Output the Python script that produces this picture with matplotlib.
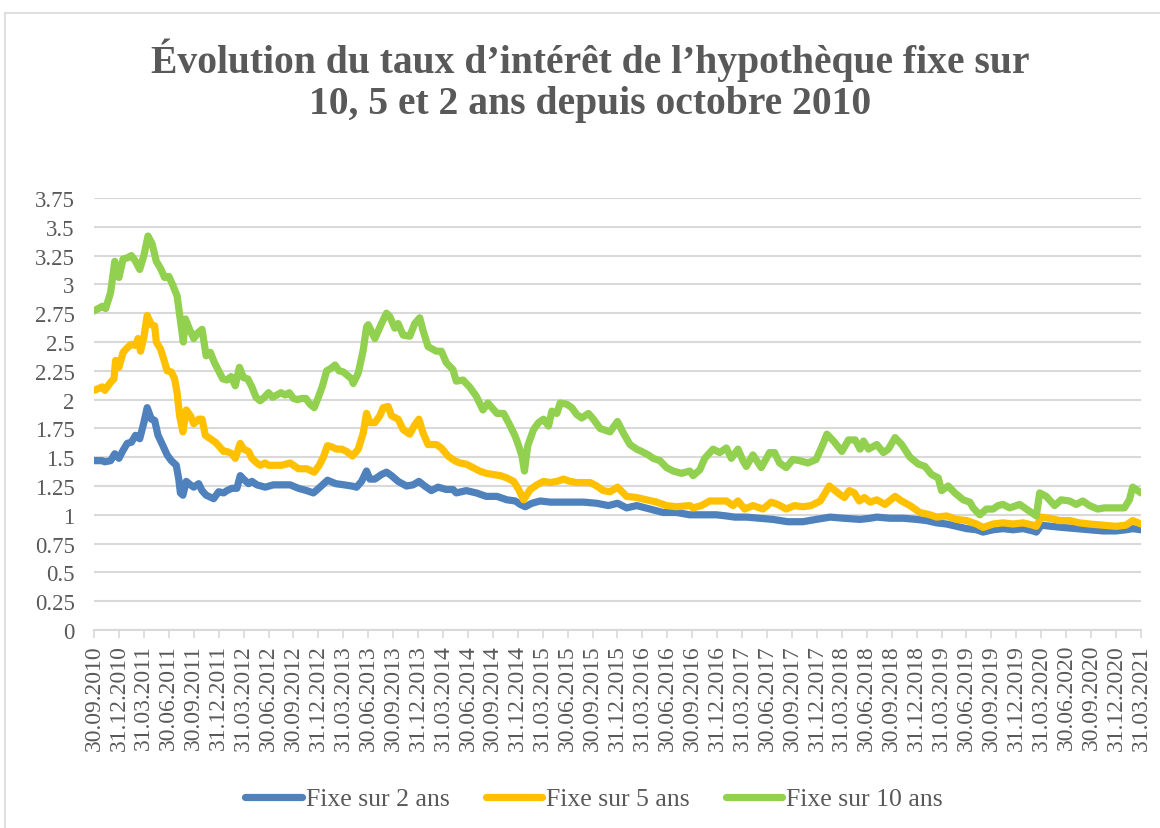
import matplotlib.pyplot as plt
from matplotlib.lines import Line2D

# months elapsed since 30.09.2010, and rates (%)
mois_2 = [0, 1, 1.3, 2, 2.5, 3, 3.5, 4, 4.5, 5, 5.5, 6, 6.4, 6.9, 7.3, 7.7, 8.1, 8.8, 9.3, 9.9,
          10.2, 10.4, 10.7, 11.1, 11.6, 12, 12.6, 13, 13.5, 14.4, 15, 15.6, 16, 16.6, 17.2, 17.6,
          18, 18.6, 19, 19.6, 20.6, 21.6, 22.6, 23.6, 24.6, 25.6, 26.4, 27.2, 28.1, 29.1, 30.1,
          31.0, 31.6, 32.2, 32.8, 33.2, 33.8, 34.6, 35.2, 35.8, 36.6, 37.6, 38.4, 39.1, 39.8,
          40.6, 41.4, 42.4, 43.2, 43.6, 44.8, 46.0, 47.2, 48.5, 49.7, 50.7, 51.3, 51.9, 52.7,
          53.7, 54.9, 56.9, 58.9, 60.5, 61.9, 63.0, 64.1, 65.3, 66.9, 68.5, 70.1, 71.7, 73.3,
          74.9, 76.1, 77.1, 78.5, 80.1, 81.7, 83.5, 85.3, 86.9, 88.6, 90.2, 92.2, 93.4, 94.2,
          95.8, 97.4, 99.0, 100.2, 101.4, 102.6, 103.8, 105.0, 106.2, 107.0, 108.2, 109.4,
          110.6, 111.8, 113.0, 113.4, 114.0, 115.2, 116.6, 118.2, 119.8, 121.4, 123.0, 124.2,
          125.0, 126.0]
taux_2 = [1.47, 1.47, 1.46, 1.47, 1.53, 1.49, 1.56, 1.62, 1.63, 1.69, 1.66, 1.80, 1.93, 1.83,
          1.82, 1.69, 1.63, 1.52, 1.47, 1.43, 1.31, 1.19, 1.17, 1.29, 1.26, 1.24, 1.27, 1.21,
          1.17, 1.14, 1.20, 1.19, 1.21, 1.23, 1.23, 1.34, 1.31, 1.27, 1.29, 1.26, 1.24, 1.26,
          1.26, 1.26, 1.23, 1.21, 1.19, 1.24, 1.30, 1.27, 1.26, 1.25, 1.24, 1.29, 1.38, 1.31,
          1.31, 1.35, 1.37, 1.34, 1.29, 1.25, 1.26, 1.29, 1.25, 1.21, 1.24, 1.22, 1.22, 1.19,
          1.21, 1.19, 1.16, 1.16, 1.13, 1.12, 1.09, 1.07, 1.10, 1.12, 1.11, 1.11, 1.11, 1.10,
          1.08, 1.10, 1.06, 1.08, 1.05, 1.02, 1.02, 1.00, 1.00, 1.00, 0.99, 0.98, 0.98, 0.97,
          0.96, 0.94, 0.94, 0.96, 0.98, 0.97, 0.96, 0.97, 0.98, 0.97, 0.97, 0.96, 0.95, 0.93,
          0.92, 0.90, 0.88, 0.87, 0.85, 0.87, 0.88, 0.87, 0.88, 0.86, 0.85, 0.91, 0.90, 0.89,
          0.88, 0.87, 0.86, 0.86, 0.87, 0.88, 0.87]

mois_5 = [0, 1, 1.3, 2, 2.4, 2.6, 3, 3.5, 4, 4.5, 5, 5.3, 5.6, 6, 6.4, 6.9, 7.3, 7.5, 8, 8.4,
          8.8, 9.3, 9.7, 10, 10.3, 10.7, 11.1, 11.6, 12, 12.6, 13, 13.4, 14, 14.6, 15, 15.6, 16,
          16.6, 17, 17.6, 18, 18.6, 19, 19.6, 20, 20.6, 21, 21.6, 22.6, 23.6, 24.6, 25.6, 26.5,
          27.1, 27.6, 28.1, 28.6, 29.2, 29.8, 30.4, 31.1, 31.8, 32.4, 32.8, 33.2, 33.8, 34.4,
          34.8, 35.4, 35.8, 36.6, 37.2, 38.0, 38.6, 39.1, 39.6, 40.2, 41.2, 41.8, 42.6, 43.4,
          44.0, 44.8, 45.6, 46.4, 47.2, 48.0, 48.9, 49.7, 50.5, 51.1, 51.5, 51.7, 52.5, 53.3,
          54.1, 54.9, 55.7, 56.5, 57.3, 58.1, 59.7, 60.5, 61.3, 62.1, 63.0, 64.1, 65.3, 66.5,
          67.7, 68.9, 70.1, 71.7, 72.1, 73.1, 74.1, 75.3, 76.1, 76.9, 77.5, 78.3, 79.3, 80.5,
          81.5, 82.3, 83.3, 84.3, 85.3, 86.3, 87.4, 88.5, 89.7, 90.3, 90.9, 91.5, 92.1, 92.7,
          93.4, 94.2, 95.2, 96.4, 97.2, 98.2, 99.4, 100.6, 101.4, 102.6, 103.8, 105.0, 106.2,
          107.0, 108.2, 109.4, 110.6, 111.8, 113.0, 113.4, 114.0, 115.0, 116.2, 117.4, 118.6,
          119.8, 121.4, 123.0, 124.2, 125.0, 126.0]
taux_5 = [2.08, 2.11, 2.08, 2.15, 2.18, 2.34, 2.28, 2.41, 2.45, 2.48, 2.47, 2.53, 2.42, 2.54,
          2.73, 2.65, 2.64, 2.50, 2.44, 2.35, 2.25, 2.24, 2.18, 2.06, 1.86, 1.72, 1.91, 1.86,
          1.79, 1.83, 1.83, 1.69, 1.66, 1.63, 1.60, 1.55, 1.55, 1.53, 1.49, 1.62, 1.57, 1.55,
          1.49, 1.45, 1.43, 1.45, 1.43, 1.43, 1.43, 1.45, 1.40, 1.40, 1.37, 1.43, 1.50, 1.60,
          1.59, 1.57, 1.57, 1.55, 1.51, 1.57, 1.71, 1.88, 1.80, 1.80, 1.86, 1.93, 1.94, 1.86,
          1.83, 1.74, 1.70, 1.78, 1.83, 1.71, 1.61, 1.61, 1.58, 1.51, 1.47, 1.45, 1.44, 1.41,
          1.38, 1.36, 1.35, 1.34, 1.32, 1.29, 1.22, 1.16, 1.13, 1.22, 1.26, 1.29, 1.28, 1.29,
          1.31, 1.29, 1.28, 1.28, 1.25, 1.21, 1.20, 1.24, 1.16, 1.15, 1.13, 1.11, 1.08, 1.07,
          1.08, 1.06, 1.08, 1.12, 1.12, 1.12, 1.08, 1.12, 1.05, 1.08, 1.05, 1.11, 1.09, 1.05,
          1.08, 1.07, 1.08, 1.12, 1.25, 1.18, 1.15, 1.21, 1.19, 1.12, 1.15, 1.11, 1.13, 1.09,
          1.16, 1.12, 1.08, 1.02, 1.00, 0.98, 0.99, 0.96, 0.95, 0.92, 0.89, 0.92, 0.93, 0.92,
          0.93, 0.91, 0.90, 0.98, 0.97, 0.95, 0.95, 0.93, 0.92, 0.91, 0.90, 0.91, 0.95, 0.92]

mois_10 = [0, 1, 1.4, 2, 2.5, 3, 3.5, 4, 4.5, 5, 5.5, 6, 6.5, 7, 7.5, 8, 8.5, 9, 9.5, 10, 10.75,
           11, 11.5, 12, 12.5, 13, 13.5, 14, 14.5, 15, 15.5, 16, 16.5, 17, 17.5, 18, 18.5, 19,
           19.5, 20, 20.5, 21, 21.5, 22, 22.5, 23, 23.5, 24, 24.5, 25, 25.5, 26, 26.5, 27, 27.5,
           28, 28.5, 29, 29.5, 30, 30.5, 31, 31.2, 31.8, 32.4, 32.8, 33.0, 33.8, 34.6, 35.2,
           35.6, 36.2, 36.6, 37.2, 38.0, 38.6, 39.2, 39.6, 40.2, 41.2, 41.8, 42.4, 43.2, 43.6,
           44.4, 45.2, 46.0, 46.8, 47.4, 48.5, 49.3, 50.1, 50.7, 51.1, 51.5, 51.8, 52.2, 52.9,
           53.5, 54.1, 54.7, 55.1, 55.7, 56.1, 56.9, 57.5, 58.1, 58.7, 59.5, 60.1, 60.9, 62.1,
           63.0, 63.7, 64.5, 65.3, 65.9, 66.7, 67.3, 68.1, 68.9, 69.7, 70.7, 71.7, 72.1, 72.9,
           73.5, 74.5, 75.3, 76.1, 76.7, 77.5, 78.1, 78.5, 79.3, 80.3, 81.3, 81.9, 82.5, 83.3,
           84.1, 84.9, 85.9, 86.9, 87.7, 88.2, 89.0, 90.0, 90.8, 91.6, 92.2, 92.6, 93.2, 94.2,
           95.0, 95.6, 96.4, 97.2, 98.2, 99.2, 100.0, 100.8, 101.6, 102.0, 102.8, 103.6, 104.6,
           105.4, 105.8, 106.6, 107.4, 108.2, 108.8, 109.4, 110.2, 111.4, 112.2, 113.4, 113.8,
           114.6, 115.6, 116.4, 117.4, 118.2, 119.0, 119.8, 120.8, 121.6, 122.6, 124.0, 124.6,
           125.0, 125.6, 126.0]
taux_10 = [2.77, 2.81, 2.79, 2.93, 3.20, 3.06, 3.22, 3.23, 3.25, 3.20, 3.13, 3.25, 3.42, 3.35,
           3.20, 3.14, 3.06, 3.07, 2.99, 2.90, 2.50, 2.70, 2.61, 2.53, 2.58, 2.61, 2.38, 2.41,
           2.32, 2.25, 2.18, 2.17, 2.20, 2.12, 2.28, 2.19, 2.18, 2.11, 2.02, 1.99, 2.02, 2.06,
           2.02, 2.04, 2.06, 2.04, 2.06, 2.01, 2.00, 2.01, 2.01, 1.96, 1.93, 2.02, 2.12, 2.25,
           2.27, 2.30, 2.25, 2.24, 2.21, 2.18, 2.14, 2.23, 2.43, 2.63, 2.65, 2.53, 2.66, 2.75,
           2.72, 2.62, 2.66, 2.56, 2.55, 2.66, 2.71, 2.60, 2.46, 2.42, 2.42, 2.32, 2.26, 2.16,
           2.17, 2.11, 2.03, 1.91, 1.97, 1.88, 1.88, 1.77, 1.68, 1.60, 1.51, 1.38, 1.60, 1.74,
           1.80, 1.83, 1.77, 1.90, 1.88, 1.97, 1.96, 1.93, 1.87, 1.84, 1.88, 1.83, 1.75, 1.72,
           1.81, 1.71, 1.61, 1.57, 1.55, 1.52, 1.49, 1.47, 1.41, 1.38, 1.36, 1.38, 1.34, 1.39,
           1.49, 1.57, 1.54, 1.58, 1.49, 1.57, 1.47, 1.42, 1.52, 1.41, 1.54, 1.54, 1.45, 1.41,
           1.48, 1.47, 1.45, 1.48, 1.61, 1.70, 1.64, 1.55, 1.65, 1.65, 1.57, 1.64, 1.57, 1.61,
           1.54, 1.57, 1.67, 1.61, 1.50, 1.44, 1.42, 1.35, 1.32, 1.21, 1.25, 1.19, 1.13, 1.11,
           1.06, 1.00, 1.05, 1.05, 1.08, 1.09, 1.06, 1.09, 1.05, 0.99, 1.19, 1.16, 1.08, 1.13,
           1.12, 1.09, 1.12, 1.08, 1.05, 1.06, 1.06, 1.06, 1.13, 1.24, 1.21, 1.19]

# quarter-end labels of the category axis
dates = []
for annee in range(2010, 2022):
    for jour_mois in ["31.03", "30.06", "30.09", "31.12"]:
        dates.append(f"{jour_mois}.{annee}")
dates = dates[2:-3]  # 30.09.2010 .. 31.03.2021

series = [
    ("Fixe sur 2 ans", mois_2, taux_2, "#4F81BD"),
    ("Fixe sur 5 ans", mois_5, taux_5, "#FFC000"),
    ("Fixe sur 10 ans", mois_10, taux_10, "#92D050"),
]

serif = "Liberation Serif"
gris = "#595959"

fig = plt.figure(figsize=(11.6, 8.29), dpi=100)
ax = fig.add_axes([94 / 1160, 1 - 631 / 829, (1141 - 94) / 1160, (631 - 199) / 829])

for nom, x, y, couleur in series:
    ax.plot(x, y, color=couleur, lw=5.2, label=nom,
            solid_joinstyle="round", solid_capstyle="round")

ax.set_xlim(0, 126)
ax.set_ylim(0, 3.75)
ax.set_yticks([i * 0.25 for i in range(16)])
ax.set_yticklabels([f"{i * 0.25:g}" for i in range(16)], fontfamily=serif, fontsize=16.5, color=gris)
ax.set_xticks(range(0, 127, 3))
ax.set_xticklabels(dates, rotation=90, fontfamily=serif, fontsize=17, color=gris)
ax.tick_params(axis="y", length=0, pad=14)
ax.tick_params(axis="x", length=6, width=1.2, color="#D9D9D9", pad=4)

ax.grid(axis="y", color="#D9D9D9", lw=1.5)
ax.set_axisbelow(True)
for side in ["top", "right", "left"]:
    ax.spines[side].set_visible(False)
ax.spines["bottom"].set_color("#D9D9D9")
ax.spines["bottom"].set_linewidth(1.5)
ax.spines["bottom"].set_zorder(0)

fig.text(590 / 1160, 1 - 81 / 829,
         "Évolution du taux d’intérêt de l’hypothèque fixe sur\n10, 5 et 2 ans depuis octobre 2010",
         ha="center", va="center", fontfamily=serif, fontweight="bold", fontsize=28.5,
         color=gris, linespacing=1.15)

fig.legend(loc="center", bbox_to_anchor=(594 / 1160, 1 - 800 / 829), ncol=3, frameon=False,
           prop={"family": serif, "size": 18.5}, labelcolor=gris, handlelength=2.2,
           handletextpad=0.15, columnspacing=1.4)

# outer chart frame
fig.add_artist(Line2D([5 / 1160, 5 / 1160], [0, 1 - 14 / 829], color="#D9D9D9", lw=1.2))
fig.add_artist(Line2D([5 / 1160, 1], [1 - 14 / 829, 1 - 14 / 829], color="#D9D9D9", lw=1.2))

fig.savefig("out.png", dpi=100)
